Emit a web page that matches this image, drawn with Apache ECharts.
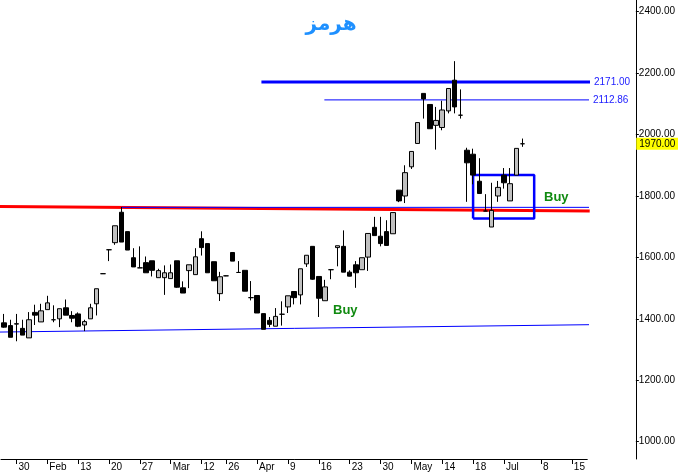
<!DOCTYPE html>
<html><head><meta charset="utf-8">
<script src="https://cdn.jsdelivr.net/npm/echarts@6/dist/echarts.min.js"></script>
<style>html,body{margin:0;padding:0;background:#fff}#c{width:678px;height:474px}</style>
</head><body><div id="c"></div>
<script>
// ---- data ----
const candleOpen = [1387,1378,1384,1369,1338,1421,1390,1430,1397,1400,
  1436,1411,1416,1380,1400,1449,1547,1625,1648,1747,
  1684,1599,1566,1583,1589,1534,1534,1531,1589,1501,
  1557,1544,1661,1645,1586,1482,1540,1616,1551,1558,
  1469,1476,1417,1395,1376,1415,1439,1489,1478,1579,
  1636,1538,1459,1560,1632,1636,1552,1576,1560,1601,
  1698,1669,1684,1677,1819,1800,1895,1971,2134,2098,
  2030,2023,2077,2177,2063,1949,1936,1848,1751,1699,
  1800,1868,1784,1868,1970];
const candleClose = [1373,1340,1383,1347,1397,1412,1426,1452,1397,1433,
  1412,1402,1376,1391,1436,1498,1547,1625,1703,1650,
  1624,1569,1566,1550,1558,1557,1550,1550,1503,1484,
  1576,1602,1632,1550,1524,1537,1540,1588,1551,1490,
  1469,1419,1366,1382,1408,1415,1475,1469,1563,1607,
  1529,1467,1504,1560,1638,1552,1539,1550,1599,1678,
  1671,1645,1639,1746,1784,1876,1945,2039,2116,2019,
  2046,2080,2150,2090,2063,1908,1868,1808,1751,1753,
  1828,1843,1840,1955,1970];
const candleLow = [1371,1340,1327,1347,1338,1380,1390,1430,1389,1373,
  1412,1389,1373,1360,1400,1411,1546,1588,1641,1650,
  1624,1569,1566,1550,1538,1534,1478,1531,1501,1484,
  1500,1544,1606,1550,1524,1458,1539,1588,1551,1490,
  1460,1419,1366,1373,1376,1378,1419,1447,1447,1569,
  1527,1406,1459,1529,1571,1552,1538,1501,1560,1556,
  1671,1636,1639,1677,1780,1777,1888,1971,2052,2019,
  1951,2014,2069,2069,2052,1781,1838,1808,1751,1699,
  1781,1824,1784,1868,1960];
const candleHigh = [1416,1397,1416,1397,1422,1446,1449,1475,1444,1433,
  1463,1425,1421,1397,1449,1498,1548,1625,1703,1764,
  1684,1630,1636,1603,1589,1563,1574,1577,1589,1522,
  1576,1630,1685,1645,1586,1553,1541,1616,1588,1558,
  1523,1476,1417,1406,1435,1457,1475,1489,1563,1607,
  1636,1538,1527,1560,1638,1688,1558,1588,1599,1678,
  1732,1732,1721,1746,1819,1900,1945,2039,2134,2098,
  2090,2110,2150,2239,2147,1957,1954,1923,1806,1843,
  1849,1891,1891,1955,1987];

const slotCount = 95;   // trading-day slots on the axis (incl. empty future)
const tickIdx = [2,7,12,17,22,27,32,36,41,46,51,56,61,66,71,76,81,87,92];
const tickLabels = ['30','Feb','13','20','27','Mar','12','26','Apr','9','16','23','30','May','14','18','Jul','8','15'];
const yTicks = [1000,1200,1400,1600,1800,2000,2200,2400];

// annotation lines: [slot, price]
const redTrend = [[-0.7,1766],[94.9,1751]];
const supportLine = [[-0.7,1357],[94.9,1381]];
const resistThin = [[18.95,1763],[95.5,1763]];
const level2171 = [[41.7,2171],[95.65,2171]];
const level2112 = [[51.9,2112.86],[95.65,2112.86]];
const boxX = [76.0, 85.9];
const boxY = [1727, 1868];
const lastPrice = 1970;
const titleText = 'هرمز';

// ---- build ----
const categories = Array.from({length: slotCount}, (_, i) => String(i));
const labelMap = {};
tickIdx.forEach((k, j) => { labelMap[k] = tickLabels[j]; });
const ohlc = candleOpen.map((o, i) => [o, candleClose[i], candleLow[i], candleHigh[i]]);
const boxPoly = [[boxX[0],boxY[0]],[boxX[0],boxY[1]],[boxX[1],boxY[1]],[boxX[1],boxY[0]],[boxX[0],boxY[0]]];

const font = '"Liberation Sans", Arial, sans-serif';
function lineSeries(data, color, width, label) {
  const s = {
    type: 'line', xAxisIndex: 1, yAxisIndex: 0, data: data,
    symbol: 'none', silent: true, clip: false, z: 2,
    lineStyle: {color: color, width: width}
  };
  if (label) {
    s.endLabel = {show: true, formatter: label, color: '#1a1aff', fontSize: 10,
      fontFamily: font, distance: 4};
  }
  return s;
}

const chart = echarts.init(document.getElementById('c'), null, {renderer: 'canvas'});
chart.setOption({
  animation: false,
  backgroundColor: '#ffffff',
  grid: {left: 1, top: 0, width: 589.7, height: 459},
  xAxis: [{
    type: 'category', data: categories, boundaryGap: true,
    axisLine: {show: true, onZero: false, lineStyle: {color: '#000', width: 1}},
    axisTick: {show: true, alignWithLabel: true, length: 5, lineStyle: {color: '#000'},
      interval: (i) => labelMap[i] !== undefined},
    axisLabel: {show: true, interval: (i) => labelMap[i] !== undefined,
      formatter: (v, i) => labelMap[i] || '', align: 'left', padding: [0,0,0,2],
      margin: 3, color: '#000', fontSize: 10, fontFamily: font},
    splitLine: {show: false}
  }, {
    type: 'value', min: -0.5, max: slotCount - 0.5, show: false
  }],
  yAxis: [{
    type: 'value', position: 'right', offset: 48.6,
    min: 943.67, max: 2438.09, scale: true,
    axisLine: {show: true, onZero: false, lineStyle: {color: '#000', width: 1}},
    axisTick: {show: true, length: 3, lineStyle: {color: '#000'}, customValues: yTicks},
    axisLabel: {show: true, customValues: yTicks, formatter: (v) => v.toFixed(2),
      margin: 3, color: '#000', fontSize: 10, fontFamily: font},
    splitLine: {show: false}
  }],
  series: [
    lineSeries(redTrend, '#ff0000', 3),
    lineSeries(supportLine, '#0000ff', 1),
    lineSeries(resistThin, '#0000ff', 1),
    lineSeries(level2171, '#0000ff', 3, '2171.00'),
    lineSeries(level2112, '#0000ff', 1, '2112.86'),
    Object.assign(lineSeries(boxPoly, '#0000ff', 2.5), {z: 2}),
    {
      type: 'candlestick', data: ohlc, xAxisIndex: 0, yAxisIndex: 0,
      barWidth: 5, z: 5, silent: true,
      itemStyle: {color: '#c0c0c0', color0: '#000000', borderColor: '#000000',
        borderColor0: '#000000', borderColorDoji: '#000000', borderWidth: 1},
      markLine: {
        symbol: 'none', silent: true,
        lineStyle: {color: 'rgba(0,0,0,0)', width: 0},
        label: {show: true, position: 'end', formatter: lastPrice.toFixed(2),
          backgroundColor: '#ffff00', color: '#000', fontSize: 10, fontFamily: font,
          padding: [1, 3, 1, 3], distance: 49},
        data: [{yAxis: lastPrice}]
      }
    }
  ],
  graphic: [
    {type: 'text', x: 331, y: 25, z: 10, style: {text: titleText, fill: '#1e90ff',
      font: 'bold 20px "DejaVu Sans", sans-serif', align: 'center', verticalAlign: 'middle'}},
    {type: 'text', x: 333, y: 310, z: 10, style: {text: 'Buy', fill: '#108a10',
      font: 'bold 13px "Liberation Sans", Arial, sans-serif', align: 'left', verticalAlign: 'middle'}},
    {type: 'text', x: 544, y: 197, z: 10, style: {text: 'Buy', fill: '#108a10',
      font: 'bold 13px "Liberation Sans", Arial, sans-serif', align: 'left', verticalAlign: 'middle'}}
  ]
});
</script></body></html>
